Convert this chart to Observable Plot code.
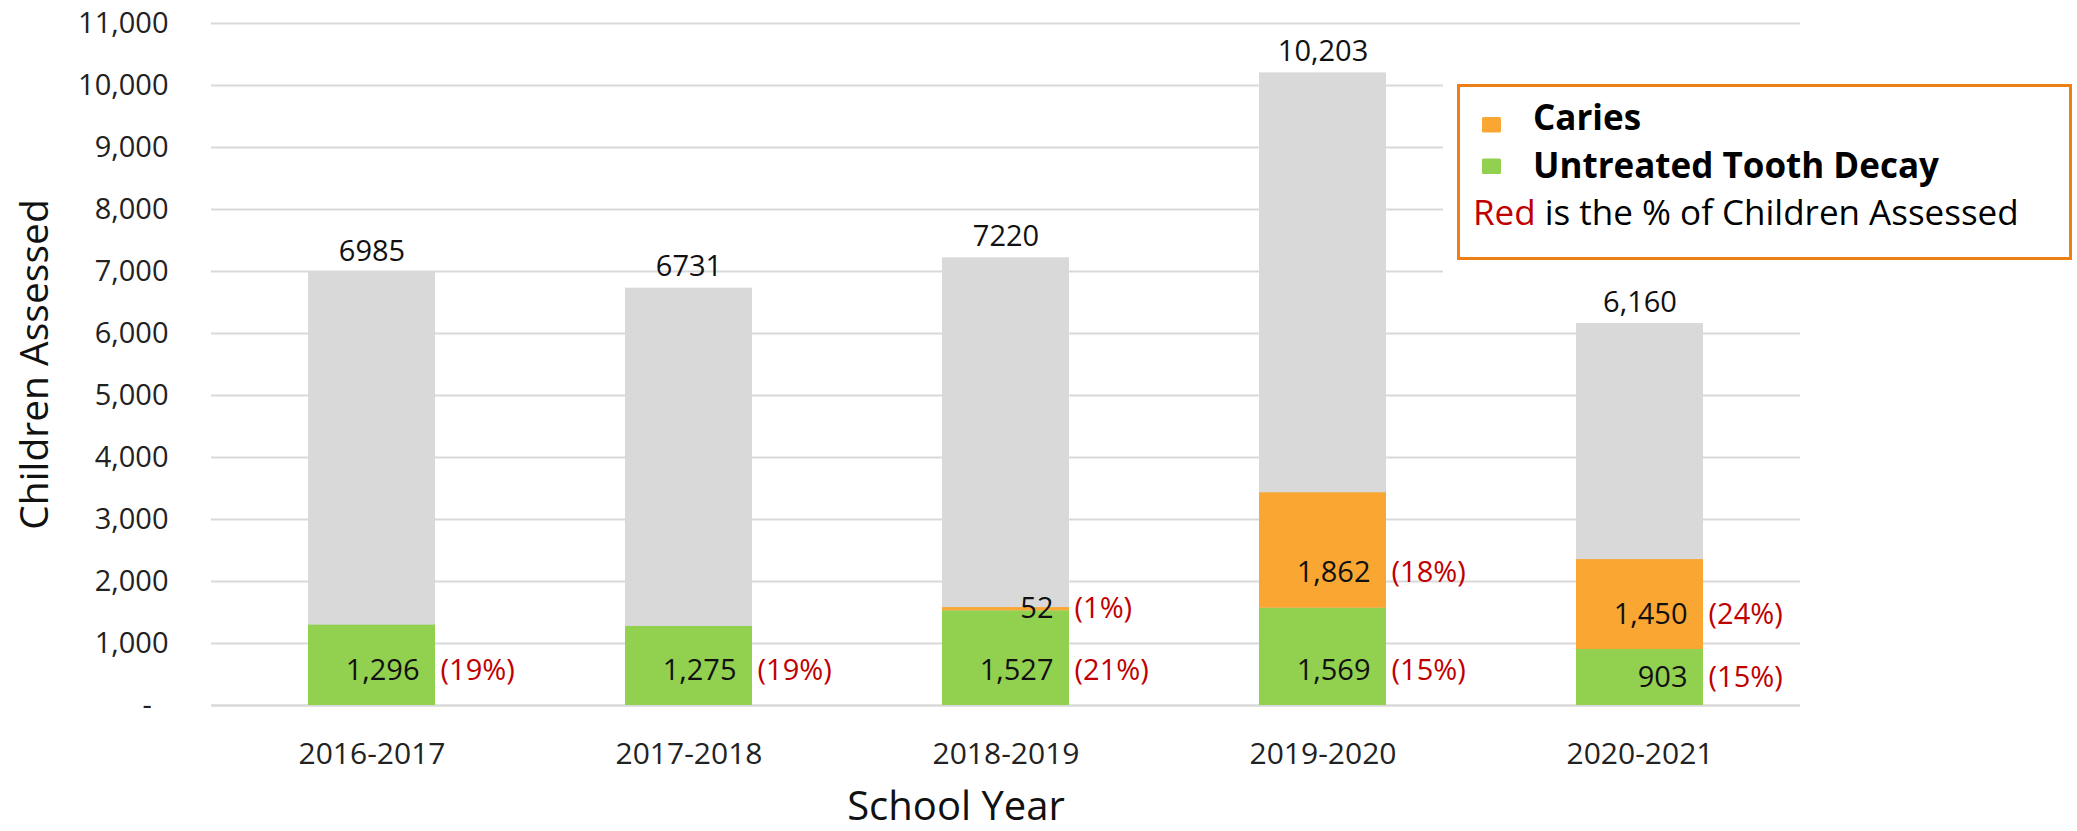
<!DOCTYPE html>
<html><head><meta charset="utf-8">
<script src="https://cdn.jsdelivr.net/npm/d3@7"></script>
<script src="https://cdn.jsdelivr.net/npm/@observablehq/plot@0.6"></script>
<style>
html,body{margin:0;padding:0;background:#fff;}
#chart{position:relative;width:2077px;height:831px;}
</style></head><body><div id="chart"></div>
<script>
// ---- data ----
const years = ["2016-2017", "2017-2018", "2018-2019", "2019-2020", "2020-2021"];
const totals = [6985, 6731, 7220, 10203, 6160];
const totalLabels = ["6985", "6731", "7220", "10,203", "6,160"];
const untreated = [1296, 1275, 1527, 1569, 903];
const untreatedPct = ["(19%)", "(19%)", "(21%)", "(15%)", "(15%)"];
const caries = [null, null, 52, 1862, 1450];
const cariesPct = [null, null, "(1%)", "(18%)", "(24%)"];
const yTicks = [0, 1000, 2000, 3000, 4000, 5000, 6000, 7000, 8000, 9000, 10000, 11000];
const legendNames = ["Caries", "Untreated Tooth Decay"];
const yTitle = "Children Assessed";
const xTitle = "School Year";

// ---- styles ----
const GRAY = "#D9D9D9", GREEN = "#92D050", ORANGE = "#F9A732", RED = "#C00000", BORDER = "#EE7F14";
const legendColors = [ORANGE, GREEN];
const FONT = "'Open Sans', 'Noto Sans', sans-serif";

const totalRows = years.map((y, i) => ({year: y, total: totals[i], label: totalLabels[i]}));
const segRows = [];
years.forEach((y, i) => {
  segRows.push({year: y, y1: 0, y2: untreated[i], value: untreated[i], pct: untreatedPct[i], fill: GREEN});
  if (caries[i] != null) {
    segRows.push({year: y, y1: untreated[i], y2: untreated[i] + caries[i], value: caries[i], pct: cariesPct[i], fill: ORANGE});
  }
});
// label sits near the base of its segment (Excel "inside base"), centred for short segments
const labelY = d => d.y1 + Math.min((d.y2 - d.y1) / 2, 565);

const fmt = d3.format(",");
const BW = 127; // approx band width in px, used for label offsets

const svg = Plot.plot({
  width: 2077,
  height: 831,
  marginLeft: 211,
  marginRight: 277,
  marginTop: 23,
  marginBottom: 126,
  style: {fontFamily: FONT, background: "#fff", color: "#222"},
  x: {domain: years, paddingInner: 0.6, paddingOuter: 0.3},
  y: {domain: [0, 11000]},
  marks: [
    Plot.gridY(yTicks.filter(d => d > 0), {stroke: GRAY, strokeOpacity: 1, strokeWidth: 2}),
    Plot.ruleY([0], {stroke: GRAY, strokeWidth: 2.5}),
    Plot.barY(totalRows, {x: "year", y: "total", fill: GRAY}),
    Plot.barY(segRows, {x: "year", y1: "y1", y2: "y2", fill: "fill"}),
    Plot.text(totalRows, {x: "year", y: "total", text: "label", dy: -21, fontSize: 29, fill: "#111"}),
    Plot.text(segRows, {x: "year", y: labelY, text: d => fmt(d.value), textAnchor: "end", dx: BW / 2 - 16, fontSize: 29, fill: "#111"}),
    Plot.text(segRows, {x: "year", y: labelY, text: "pct", textAnchor: "start", dx: BW / 2 + 5, fontSize: 29, fill: RED}),
    Plot.axisY({ticks: yTicks, tickSize: 0, tickPadding: 43, fontSize: 29, tickFormat: d => d === 0 ? "-\u2007" : fmt(d), label: null}),
    Plot.axisX({tickSize: 0, tickPadding: 37, fontSize: 30, label: null}),
    Plot.text([yTitle], {frameAnchor: "left", textAnchor: "middle", dx: -176, rotate: -90, fontSize: 39, fill: "#111"}),
    Plot.text([xTitle], {frameAnchor: "bottom", textAnchor: "middle", lineAnchor: "bottom", dx: -50, dy: 114, fontSize: 40, fill: "#111"})
  ]
});

// ---- legend box (top right) ----
const g = d3.select(svg).append("g").attr("font-family", FONT).attr("text-anchor", "start");
g.append("rect").attr("x", 1443).attr("y", 70).attr("width", 634).attr("height", 206).attr("fill", "#fff");
g.append("rect").attr("x", 1458.5).attr("y", 85.5).attr("width", 612).attr("height", 173)
  .attr("fill", "#fff").attr("stroke", BORDER).attr("stroke-width", 3);
const swY = [117, 158.5], txtY = [130, 178];
legendNames.forEach((name, i) => {
  g.append("rect").attr("x", 1482).attr("y", swY[i]).attr("width", 19).attr("height", 15.5).attr("rx", 1.5).attr("fill", legendColors[i]);
  g.append("text").attr("x", 1533).attr("y", txtY[i]).attr("font-size", 35).attr("font-weight", "bold").attr("fill", "#000").text(name);
});
const note = g.append("text").attr("x", 1473).attr("y", 225).attr("font-size", 35).attr("fill", "#000");
note.append("tspan").attr("fill", RED).text("Red");
note.append("tspan").text(" is the % of Children Assessed");

document.getElementById("chart").appendChild(svg);
</script>
</body></html>
